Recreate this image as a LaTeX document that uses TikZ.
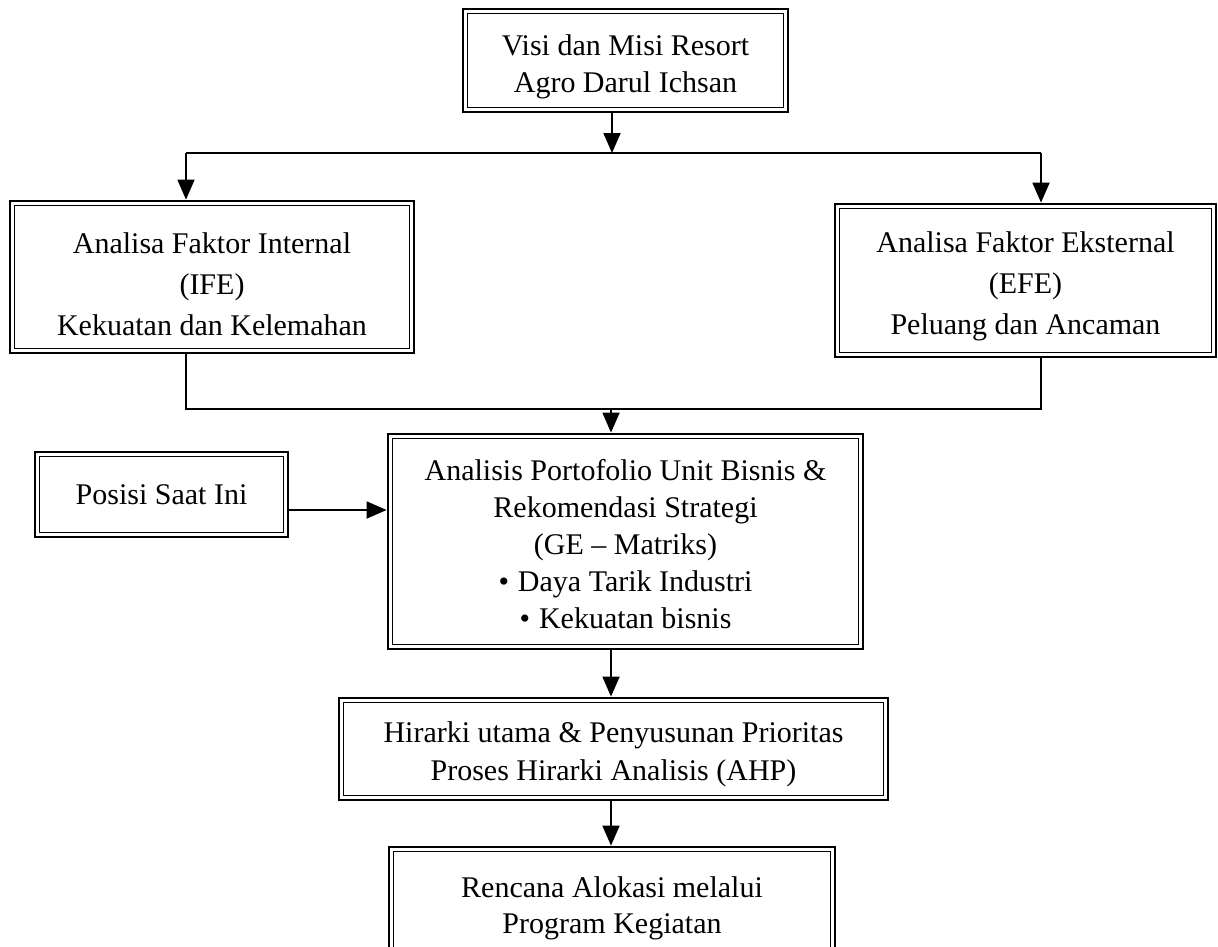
\documentclass[tikz,border=0pt]{standalone}
\usepackage{fontspec}
\setmainfont{Liberation Serif}
\usetikzlibrary{arrows.meta}
% invisible strut that makes the first line taller, pushing a text block down
\newcommand{\firstline}[1]{\rule{0pt}{#1}}
\begin{document}
\begin{tikzpicture}[x=1pt,y=-1pt,
  frame/.style={draw, line width=2.8pt, inner sep=0pt, align=center,
    font=\fontsize{30}{38}\selectfont},
  wide/.style={font=\fontsize{30}{41}\selectfont},
  tight/.style={font=\fontsize{30}{36}\selectfont},
  porto lines/.style={font=\fontsize{30}{37}\selectfont},
  innerline/.style={line width=1.6pt},
  link/.style={line width=1.8pt},
  arr/.style={link, -{Triangle[width=17pt,length=20pt]}}]
\useasboundingbox (0,0) rectangle (1218,946);
\clip (0,0) rectangle (1218,946);

% boxes
\node[frame, font=\fontsize{30}{37}\selectfont,
  minimum width=325pt, minimum height=103pt] (visi) at (625.5,60.5)
  {\firstline{34pt}Visi dan Misi Resort\\Agro Darul Ichsan};
\node[frame, wide, minimum width=404pt, minimum height=152pt] (ife) at (212,277)
  {\firstline{34.5pt}Analisa Faktor Internal\\(IFE)\\Kekuatan dan Kelemahan};
\node[frame, wide, minimum width=381pt, minimum height=153pt] (efe) at (1025.5,280.5)
  {\firstline{32pt}Analisa Faktor Eksternal\\(EFE)\\Peluang dan Ancaman};
\node[frame, minimum width=253pt, minimum height=85pt] (posisi) at (161.5,494.5)
  {Posisi Saat Ini};
\node[frame, porto lines, minimum width=475pt, minimum height=215pt] (porto) at (625.5,541.5)
  {\firstline{25.5pt}Analisis Portofolio Unit Bisnis \&\\Rekomendasi Strategi\\(GE -- Matriks)\\
   \textbullet\hspace{0.3em}Daya Tarik Industri\\\textbullet\hspace{0.3em}Kekuatan bisnis};
\node[frame, minimum width=549pt, minimum height=102pt] (ahp) at (613.5,749)
  {\firstline{30.5pt}Hirarki utama \& Penyusunan Prioritas\\Proses Hirarki Analisis (AHP)};
\node[frame, tight, minimum width=446pt, minimum height=106pt] (rencana) at (612,900)
  {\firstline{36.5pt}Rencana Alokasi melalui\\Program Kegiatan};

% inner rule of the double frames
\foreach \n in {visi,ife,efe,posisi,porto,ahp,rencana}
  \draw[innerline] ([shift={(6pt,-6pt)}]\n.north west)
    rectangle ([shift={(-6pt,6pt)}]\n.south east);

% split from the vision box to both analyses
\coordinate (split) at (612,153);
\coordinate (bl) at (186,153);
\coordinate (br) at (1041,153);
\draw[arr] (visi.south -| split) -- (split);
\draw[link] (bl) -- (br);
\draw[arr] (bl) -- (bl |- ife.north);
\draw[arr] (br) -- (br |- efe.north);

% merge of both analyses into the portfolio box
\coordinate (jl) at (186,409);
\coordinate (jr) at (1041,409);
\coordinate (merge) at (611,409);
\draw[link] (ife.south -| jl) -- (jl) -- (jr) -- (efe.south -| jr);
\draw[arr] (merge) -- (merge |- porto.north);

% current position feeds the portfolio box
\coordinate (pin) at (288,510);
\draw[arr] (posisi.east |- pin) -- (porto.west |- pin);

% downward chain
\draw[arr] (porto.south -| merge) -- (ahp.north -| merge);
\draw[arr] (ahp.south -| merge) -- (rencana.north -| merge);
\end{tikzpicture}
\end{document}
